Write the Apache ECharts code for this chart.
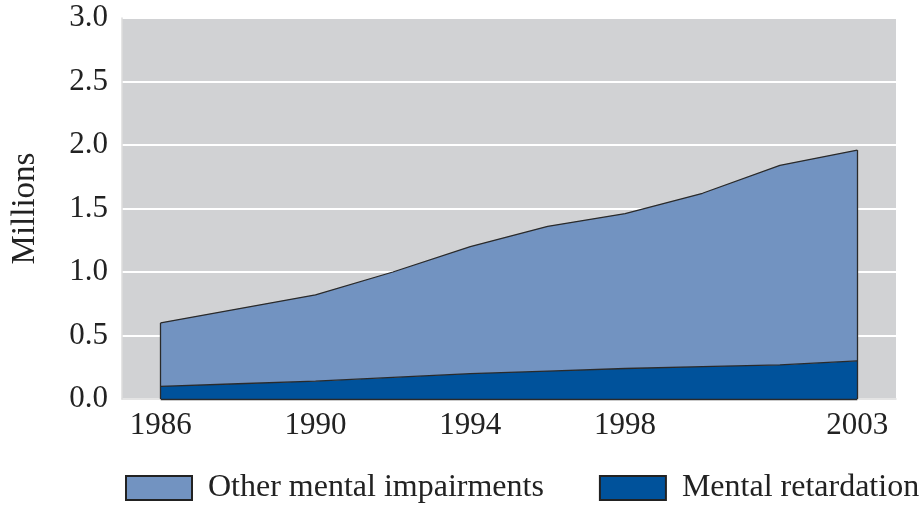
<!DOCTYPE html>
<html><head><meta charset="utf-8">
<script src="https://cdn.jsdelivr.net/npm/echarts@6/dist/echarts.min.js"></script>
<style>html,body{margin:0;padding:0;background:#fff}#c{width:921px;height:508px}</style>
</head><body><div id="c"></div>
<script>
var years = ['1986','1988','1990','1992','1994','1996','1998','2000','2002','2003'];
var shownYears = ['1986','1990','1994','1998','2003'];
var mentalRetardation = [0.10, 0.12, 0.14, 0.17, 0.20, 0.22, 0.24, 0.255, 0.268, 0.30];
var otherImpairments = [0.50, 0.59, 0.68, 0.83, 1.00, 1.14, 1.22, 1.365, 1.572, 1.66];
var yTicks = [0, 0.5, 1.0, 1.5, 2.0, 2.5, 3.0];

var last = years.length - 1;
var total = years.map(function(_, i){ return mentalRetardation[i] + otherImpairments[i]; });
var font = 'Liberation Serif';
var edge = {color:'#2a2a2a', width:1.3, type:'solid'};

var chart = echarts.init(document.getElementById('c'));
chart.setOption({
  animation:false,
  grid:{left:122, right:25, top:18, bottom:109, show:true, backgroundColor:'#d1d2d4', borderWidth:0,
        containLabel:false, outerBoundsMode:'none'},
  legend:{
    data:['Other mental impairments','Mental retardation'],
    left:125, top:472, width:796, padding:0, orient:'horizontal',
    itemWidth:66, itemHeight:24, itemGap:55, icon:'rect',
    itemStyle:{borderColor:'#222', borderWidth:2},
    textStyle:{fontFamily:font, fontSize:32, color:'#222', padding:[0,0,0,11]}
  },
  xAxis:{
    type:'category', data:years, boundaryGap:true,
    axisLine:{show:true, lineStyle:{color:'#dcdcdc', width:1.5}},
    axisTick:{show:false},
    axisLabel:{
      fontFamily:font, fontSize:31, color:'#222', margin:11,
      interval:function(i, v){ return shownYears.indexOf(v) >= 0; }
    },
    splitLine:{show:false}
  },
  yAxis:{
    type:'value', min:0, max:3, interval:0.5,
    name:'Millions', nameLocation:'middle', nameGap:80, nameRotate:90,
    nameTextStyle:{fontFamily:font, fontSize:33, color:'#222'},
    axisLine:{show:true, lineStyle:{color:'#dcdcdc', width:1.5}},
    axisTick:{show:false},
    axisLabel:{fontFamily:font, fontSize:31, color:'#222', margin:14,
      formatter:function(v){ return yTicks.indexOf(v) >= 0 ? v.toFixed(1) : ''; }},
    splitLine:{show:true, lineStyle:{color:'#ffffff', width:2}}
  },
  series:[
    {name:'Mental retardation', type:'line', stack:'t', data:mentalRetardation,
     symbol:'none', color:'#00529b',
     lineStyle:{color:'#2a2a2a', width:1.3},
     areaStyle:{color:'#00529b', opacity:1},
     itemStyle:{color:'#00529b'}},
    {name:'Other mental impairments', type:'line', stack:'t', data:otherImpairments,
     symbol:'none', color:'#7293c1',
     lineStyle:{color:'#2a2a2a', width:1.3},
     areaStyle:{color:'#7293c1', opacity:1},
     itemStyle:{color:'#7293c1'},
     markLine:{silent:true, symbol:['none','none'], label:{show:false}, lineStyle:edge,
       data:[
         [{coord:[years[0],0]},{coord:[years[0],total[0]]}],
         [{coord:[years[last],0]},{coord:[years[last],total[last]]}],
         [{coord:[years[0],0]},{coord:[years[last],0]}]
       ]}}
  ]
});
</script></body></html>
